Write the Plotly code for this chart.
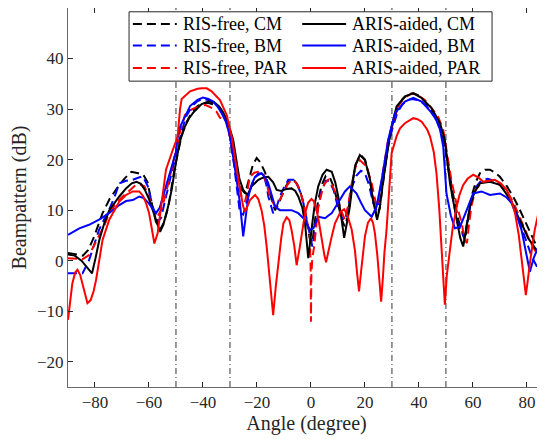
import plotly.graph_objects as go

# ---------------- data ----------------
# RIS-free, CM (black dashed)
ang_free_cm = [-90, -87, -84.5, -82.5, -80.3, -77.2, -74.5, -72, -69, -66.5, -64, -62, -60.5, -59.5,
               -57.5, -55.9, -54.5, -52.8, -50.4, -48, -46, -44, -42, -40, -38, -36, -34, -32.5, -31,
               -30, -28.5, -27, -25.5, -24.4, -23, -21.5, -20.1, -18.8, -17, -15.8, -14.3, -13.3, -12,
               -10.9, -9, -7.8, -6.5, -5.3, -4, -2.8, -1.5, -0.5, 0.5, 1.5, 2.7, 4, 5.5, 7, 8.5, 10,
               11.5, 12.5, 13.5, 15, 16.5, 18.3, 20, 21.5, 23, 24.5, 25.5, 27, 28.5, 30, 32, 34, 36,
               38, 40, 42, 44, 46, 48, 49.5, 51, 52.5, 54.6, 57, 58, 59.5, 61, 62.6, 64.5, 66.3, 68,
               70, 72.5, 74.9, 77, 78.6, 80.5, 82.3, 84.5, 86.7]
bp_free_cm = [1.5, 1.3, 1.0, 2.1, 4.8, 9.4, 12.3, 14.2, 16.3, 17.6, 17.3, 16.9, 15.5, 12.7,
              7.8, 6.1, 7.5, 10.7, 18.6, 24.5, 27.5, 29.5, 30.6, 31.2, 31.2, 30.9, 30.3, 29.0, 27,
              24.5, 20.5, 16.5, 14.0, 13.3, 16.0, 19.0, 20.3, 19.5, 17.5, 14.7, 11.5, 10.0, 11.2,
              12.7, 15.0, 16.0, 16.0, 15.3, 13.8, 11.4, 7.5, 4.5, 3.5, 8.0, 12.0, 15.0, 16.8, 16.5,
              14.5, 11.0, 8.0, 6.8, 8.5, 14.5, 19.0, 21.0, 20.0, 17.0, 12.0, 8.5, 10.5, 16.5, 22.5,
              26.5, 30.0, 32.0, 32.9, 33.1, 32.7, 31.6, 30.3, 28.5, 26.0, 23.0, 18.0, 13.5, 8.1, 4.1,
              7.5, 12.7, 15.5, 17.3, 18.0, 18.0, 17.5, 16.6, 14.8, 12.7, 10.5, 8.7, 6.5, 4.5, 1.8, -0.3]

# ARIS-aided, CM (black solid)
ang_aris_cm = [-90, -87.5, -85, -83, -81.1, -79.8, -78.4, -76.5, -74.7, -71, -68.5, -66.4, -64.6, -63,
               -61.5, -60, -58.4, -57, -55.9, -54.7, -53, -51.6, -50, -48.5, -47.3, -45, -43.6, -40.5,
               -38, -36, -34, -32.5, -31.2, -30, -28.8, -27.5, -26.5, -25.1, -23.5, -22, -19.5, -17.5,
               -15.8, -14, -12.7, -11, -9, -7.2, -5.8, -4.7, -3.2, -2.2, -1, 0.5, 1.5, 2.7, 4.3, 5.8,
               7.7, 9, 10.1, 11, 12.3, 13.5, 14.4, 15.5, 16.3, 18.1, 20, 21.9, 23, 24.5, 25.5, 26.8,
               28, 29.3, 31.7, 34.8, 37.9, 41, 44.7, 47.8, 49.6, 51.5, 54, 55.3, 56.4, 57.5, 58.9,
               60.5, 62.6, 66.3, 70, 72, 74.3, 76, 78, 80.5, 82.9, 84.5, 86.7]
bp_aris_cm = [1.2, 1.0, 0.0, -1.3, -2.5, 0.5, 4.1, 7.5, 10.0, 12.7, 14.3, 15.3, 15.6, 15.2,
              14.0, 12.2, 9.7, 7.3, 5.7, 7.1, 10.5, 14.0, 19.5, 23.6, 25.9, 28.3, 29.3, 31.0,
              31.5, 31.4, 30.5, 29.3, 27.9, 26.0, 23.9, 19.5, 16.2, 14.0, 13.0, 14.7, 16.0, 16.5,
              16.6, 15.5, 14.0, 13.8, 14.2, 14.3, 13.8, 12.7, 10.5, 7.4, 0.5, 7.4, 11.5, 14.7, 17.0, 18.0,
              17.6, 15.5, 12.7, 9.5, 4.5, 8.0, 10.7, 15.5, 18.6, 20.9, 19.9, 16.0, 12.0, 8.1, 10.5, 16.0,
              20.5, 25.2, 30.5, 32.5, 33.1, 32.2, 30.2, 27.2, 23.9, 15.3, 8.1, 4.5, 2.8, 6.5, 10.7,
              13.5, 15.3, 15.6, 15.0, 13.5, 11.7, 9.5, 7.4, 4.4, 2.6, 1.0, 0.2]

# RIS-free, BM (blue dashed)
ang_free_bm = [-90, -87, -84.6, -82.2, -80.5, -78.5, -76.5, -74.8, -72.5, -71, -68.5, -66, -64, -62.3,
               -60.5, -58.6, -56.8, -55.5, -54, -52, -50, -48, -46, -44, -42, -40, -38, -36, -34,
               -32.5, -31, -30, -28.5, -27.2, -26.3, -25.1, -23.8, -22.6, -21, -19.5, -17.7, -16.5,
               -15.8, -14, -12.8, -11.5, -10, -8.4, -6.5, -5.3, -4, -2.8, -1, 0.5, 1.5, 2.8, 4, 5.5,
               6.8, 8.5, 10, 11.5, 12.6, 13.7, 15.1, 16.8, 18.5, 20, 21.5, 23, 24.3, 25.5, 27, 28.6,
               30, 32, 34, 36, 37.5, 40, 42, 44, 46, 48, 49.5, 51, 52.5, 54.5, 56.8, 58, 59.5, 61, 63,
               65.5, 68, 70, 72.5, 75, 77, 79, 80.5, 82, 84.8, 86.7]
bp_free_bm = [-2.5, -2.5, -2.5, 0.1, 3.0, 6.1, 8.3, 10.0, 13.0, 15.3, 15.8, 16.0, 16.4, 16.7,
              14.8, 10.7, 7.7, 8.5, 12.0, 16.5, 21.0, 25.5, 28.8, 30.6, 31.6, 32.0, 31.8, 31.3, 30.3,
              29.0, 27.0, 24.5, 19.0, 13.0, 9.4, 9.1, 11.5, 14.0, 16.2, 17.3, 17.2, 15.0,
              12.7, 9.4, 10.5, 12.7, 14.5, 16.0, 16.0, 15.3, 13.6, 11.4, 6.7, 2.8, 6.0, 11.0, 14.0, 15.8,
              15.8, 13.8, 10.5, 8.5, 8.0, 10.5, 14.5, 16.8, 17.8, 17.3, 15.0, 11.5, 10.0, 12.5, 17.0, 22.5,
              25.8, 29.3, 31.0, 31.8, 32.0, 31.7, 31.0, 29.8, 28.2, 26.0, 23.0, 17.5, 12.5, 7.0, 4.5, 8.0,
              12.0, 14.5, 15.8, 16.2, 15.8, 15.2, 13.5, 11.0, 8.0, 5.0, 2.5, 0.5, -2.2, -2.4]

# ARIS-aided, BM (blue solid)
ang_aris_bm = [-90, -88, -85.8, -82.2, -78.5, -74.8, -71, -68.5, -66, -63.6, -61.9, -60, -58.6, -57.4,
               -56, -54, -52, -50, -49.7, -48.5, -46, -44.8, -42, -40, -38, -36.2, -34.5, -33.1,
               -31.5, -30, -28.1, -26.3, -25.1, -24, -23.2, -21.8, -20.7, -18.3, -17, -15.8, -14.5,
               -13.3, -11.5, -9.5, -7.2, -4.7, -2.2, -0.4, 0.9, 2.7, 5.2, 7.7, 10.1, 12.6, 14.4, 16.9,
               18.5, 20, 22.5, 24.3, 26.2, 28.6, 31.1, 34.8, 37.9, 41, 43.5, 45.9, 47.8, 49, 50.2,
               51.8, 53.3, 55.2, 57.7, 60.1, 63.2, 66.3, 70, 72.5, 74.3, 76.5, 78, 79.5, 81.1, 82.5,
               84.8, 86.7]
bp_aris_bm = [5.1, 5.8, 6.4, 7.1, 8.1, 9.4, 11.0, 11.8, 12.0, 12.7, 12.4, 11.3, 10.4, 9.4,
              10.5, 14.0, 17.5, 21.5, 23.5, 26.5, 29.2, 30.6, 31.8, 32.3, 32.0, 31.5, 30.4, 29.2,
              27.5, 24.6, 18.0, 11.4, 4.8, 9.5, 12.7, 15.3, 16.6, 17.3, 16.5, 15.3, 13.0,
              10.7, 10.0, 10.0, 10.0, 9.4, 8.1, 6.1, 6.4, 8.7, 8.4, 9.4, 11.4, 13.7, 14.7, 13.3,
              11.5, 10.0, 8.7, 10.7, 16.0, 23.9, 29.2, 31.5, 32.2, 31.5, 30.0, 28.5, 26.0, 22.6, 13.3,
              9.0, 6.4, 6.7, 10.0, 13.3, 13.7, 13.0, 13.3, 12.5, 11.4, 8.5, 6.1, 2.0, -2.2, 0.5,
              3.5, 11.0]

# RIS-free, PAR (red dashed)
ang_free_par = [-90, -87, -84.6, -82.2, -80.5, -78.5, -76.5, -74.8, -72, -69.7, -67, -64.8, -63, -61.7,
                -60.3, -59.2, -57.4, -56, -55, -52.5, -50.4, -48.5, -46.7, -44, -41.1, -39, -37, -35,
                -33.7, -32.5, -31.5, -30, -28.5, -27, -25.7, -24.4, -23.5, -22.6, -21, -19.5, -17.7,
                -16.3, -15.2, -13.3, -11.8, -10.2, -8.7, -7.2, -6, -4.7, -3.3, -2.2, -1.2, -0.4, -0.1,
                0.0, 0.15, 0.5, 1.2, 2, 2.7, 4, 5, 6.4, 7.5, 8.9, 10.2, 11.4, 12.6, 13.8, 15.1, 16.5,
                18.1, 20.6, 22.5, 24.3, 25.3, 26.2, 28.6, 30, 31.7, 34, 37.3, 40, 42.2, 44.5, 47.1, 49,
                50.5, 52, 54, 55.8, 57, 57.8, 58.5, 59.5, 61, 63, 65.5, 68, 70, 72.5, 75, 77, 79, 81,
                83, 84.8, 86.7]
bp_free_par = [0.5, 0.4, 0.3, 1.1, 2.8, 4.8, 7.0, 9.4, 11.5, 12.7, 14.0, 15.0, 15.0, 14.7,
               13.0, 11.4, 8.4, 9.5, 10.7, 16.0, 21.3, 25.5, 28.8, 30.0, 30.6, 30.8, 30.3, 29.5,
               28.3, 27.9, 28.0, 24.5, 20.0, 15.5, 12.7, 11.7, 14.0, 16.6, 17.4, 17.6, 17.3,
               15.0, 12.7, 10.7, 11.8, 13.3, 15.0, 16.0, 15.7, 14.7, 12.5, 10.0, 7.0, 4.8, -2,
               -12.1, -3, 0.5, 2.8, 7.0, 10.7, 13.5, 15.2, 16.0, 15.3, 13.7, 11.5, 9.6, 8.1, 11.0, 15.3, 18.5,
               19.9, 18.6, 15.3, 10.7, 12.5, 16.0, 23.9, 26.8, 29.9, 32.0, 33.1, 32.6, 31.8, 30.3, 28.5, 25.9,
               21.0, 16.0, 11.0, 7.5, 4.0, 3.5, 7.0, 11.0, 14.0, 15.3, 15.8, 15.5, 15.0, 13.8, 11.5, 9.0, 6.5, 4.0,
               2.0, 0.5, -0.2]

# ARIS-aided, PAR (red solid)
ang_aris_par = [-90, -89.3, -88.4, -87.3, -86.5, -85.5, -84.7, -83.5, -82.8, -81.6, -80.5, -79.6, -78.5,
                -77.2, -74.7, -71, -68.5, -66, -63.6, -62.2, -61.1, -60, -59.3, -58.0, -56.8, -55.6,
                -53.7, -51.2, -49.4, -48.5, -47.9, -44.8, -42, -40.5, -38.6, -36.8, -35, -33.7, -31.2,
                -29.4, -28.3, -26.9, -25.1, -24.4, -23.5, -22.6, -20.7, -19.5, -18.3, -17.3, -16.4,
                -15.2, -14.0, -13.0, -12.1, -11.0, -10.2, -9.0, -8, -7.2, -6.2, -5.3, -4.1, -3.0, -2.2,
                -1, 0.2, 1, 2.1, 3, 4, 5.0, 5.6, 6.5, 7.7, 8.9, 10.1, 11, 12.3, 13.5, 15.1, 16.3, 17.1,
                17.8, 18.6, 20, 21.1, 22.2, 23, 23.7, 24.6, 25.3, 26.0, 26.7, 27.2, 28, 29.0, 29.9,
                31.7, 33, 34.8, 37.9, 39.5, 41, 43, 44.1, 45.5, 46.5, 47.5, 48.4, 49.3, 49.6, 50.3,
                51.5, 52.5, 54, 55, 56.4, 58, 60.1, 62, 63.8, 66, 68.1, 70.3, 72.5, 74.3, 75.6, 77, 78,
                79, 79.6, 80.3, 81.1, 82.9, 84.8, 86.7]
bp_aris_par = [-11.7, -8, -4.5, -2.3, -1.8, -2.8, -4.5, -7.2, -8.4, -7.8, -6.0, -3.8, 0.0,
               4.1, 8.1, 11.7, 13.0, 13.7, 13.7, 12.8, 11.4, 9.5, 7.4, 3.4, 5.4, 10.7,
               18.0, 21.9, 24.5, 30.0, 32.0, 33.5, 34.0, 34.1, 34.1, 33.5, 32.5, 31.8, 28.8,
               24.6, 21.0, 16.0, 10.7, 9.7, 10.8, 12.0, 13.0, 12.2, 10.0, 7.0, 2.8,
               -4.0, -10.8, -5.0, -0.5, 4.5, 7.4, 8.6, 8.0, 6.1, 3.0, -0.9, 2.8, 6.5, 9.4,
               11.5, 12.2, 11.8, 10.0, 7.5, 4.1, 1.0, -0.3, 2.0, 4.8, 7.4, 8.7, 9.7, 10.2, 9.0, 6.1, 2.0, -2.5,
               -6.1, -2.0, 4.8, 7.5, 8.4, 7.5, 5.4, 1.0, -3.5, -8.1, -3.0, 1.5, 6.1, 14.0, 21.3,
               24.6, 26.2, 27.2, 28.2, 28.0, 27.5, 26.0, 24.6, 21.5, 17.3, 10.5, 1.5, -6, -8.7, -3.0,
               2.8, 6.5, 10.7, 13.0, 15.0, 16.2, 17.0, 16.5, 15.6, 15.8, 16.0, 15.3, 14.0, 11.8, 9.4, 5.0, 0.1,
               -4.5, -6.8, -4.0, -0.5, 6.1, 11.0, 15.2]

# target / interference sector edges (dash-dot guides)
sector_edges = [-50, -30, 30, 50]

x_ticks = [-80, -60, -40, -20, 0, 20, 40, 60, 80]
y_ticks = [-20, -10, 0, 10, 20, 30, 40, 50]

# ---------------- figure ----------------
AX = "#262626"
FONT = "Liberation Serif"
DASH = "9px,5px"

fig = go.Figure()

# (angles, values, name, colour, dash) - dashed first so the solid curves sit on top
series = [
    (ang_free_cm, bp_free_cm, "RIS-free, CM", "black", DASH),
    (ang_free_bm, bp_free_bm, "RIS-free, BM", "blue", DASH),
    (ang_free_par, bp_free_par, "RIS-free, PAR", "red", DASH),
    (ang_aris_cm, bp_aris_cm, "ARIS-aided, CM", "black", "solid"),
    (ang_aris_bm, bp_aris_bm, "ARIS-aided, BM", "blue", "solid"),
    (ang_aris_par, bp_aris_par, "ARIS-aided, PAR", "red", "solid"),
]
for xs, ys, name, col, dash in series:
    fig.add_trace(go.Scatter(
        x=xs, y=ys, mode="lines", name=name, showlegend=False,
        line=dict(color=col, width=2, dash=dash),
    ))

for e in sector_edges:
    fig.add_shape(type="line", x0=e, x1=e, y0=0, y1=1, xref="x", yref="paper",
                  line=dict(color="black", width=0.8, dash="6px,3px,1px,3px"), layer="below")

# ----- MATLAB-style 2-column legend box (plotly's own legend rows are too tall) -----
fig.add_shape(type="rect", xref="paper", yref="paper", x0=0.128, x1=0.889, y0=0.807, y1=0.990,
              line=dict(color=AX, width=1), fillcolor="white", layer="above")
row_y = [0.958, 0.901, 0.842]
col_x = [0.136, 0.491]      # start of key line in each column
key_len = 0.092
for i, (_, _, name, col, dash) in enumerate(series):
    c, r = i // 3, i % 3
    x0 = col_x[c]
    fig.add_shape(type="line", xref="paper", yref="paper", x0=x0, x1=x0 + key_len,
                  y0=row_y[r], y1=row_y[r], line=dict(color=col, width=2, dash=dash), layer="above")
    fig.add_annotation(text=name, xref="paper", yref="paper", x=x0 + key_len + 0.008, y=row_y[r],
                       xanchor="left", yanchor="middle", showarrow=False,
                       font=dict(family=FONT, size=18, color="black"))

# the page keeps the browser's 8px body margin, so the figure is sized to fit inside it
fig.update_layout(
    width=537, height=431,
    margin=dict(l=60, r=0, t=0, b=52),
    paper_bgcolor="white", plot_bgcolor="white",
    font=dict(family=FONT, size=17, color=AX),
    showlegend=False,
    xaxis=dict(
        range=[-90, 86.7], tickvals=x_ticks, ticks="inside", ticklen=5,
        showline=True, linecolor="#6a6a6a", linewidth=1, mirror="ticks", tickcolor=AX,
        showgrid=False, zeroline=False, tickfont=dict(family=FONT, size=17, color=AX),
        title=dict(text="Angle (degree)", font=dict(family=FONT, size=20, color=AX), standoff=2),
    ),
    yaxis=dict(
        range=[-25, 50], tickvals=y_ticks, ticks="inside", ticklen=5,
        showline=True, linecolor="#6a6a6a", linewidth=1, mirror="ticks", tickcolor=AX,
        showgrid=False, zeroline=False, tickfont=dict(family=FONT, size=17, color=AX),
        title=dict(text="Beampattern (dB)", font=dict(family=FONT, size=20, color=AX), standoff=6),
    ),
)

fig.write_html("out.html")
